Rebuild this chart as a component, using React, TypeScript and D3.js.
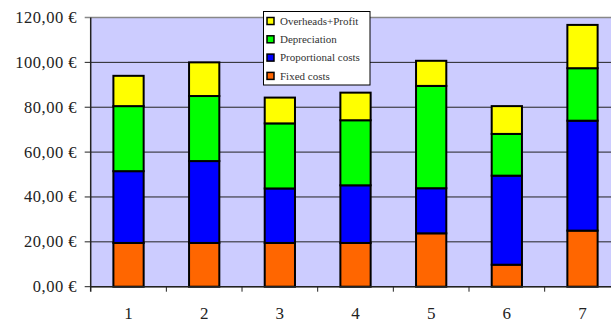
import React from "react";
import * as d3 from "d3";

const categories = ["1", "2", "3", "4", "5", "6", "7"];
const fixedCosts = [19.5, 19.5, 19.5, 19.5, 23.8, 9.8, 25];
const proportionalCosts = [32, 36.5, 24.3, 25.7, 20.1, 39.7, 49];
const depreciation = [29, 29, 29, 29, 45.6, 18.6, 23.4];
const overheadsProfit = [13.5, 15, 11.5, 12.3, 11.2, 12.4, 19.3];
const yTicks = [0, 20, 40, 60, 80, 100, 120];

const seriesNames = ["Fixed costs", "Proportional costs", "Depreciation", "Overheads+Profit"];
const seriesColors = ["#FF6600", "#0000FF", "#00FF00", "#FFFF00"];

const SERIF = "Liberation Serif, Tinos, Times New Roman, DejaVu Serif, serif";

export default function App() {
  const W = 611, H = 322;
  const left = 90.7, top = 17.5, bottom = 286.7;
  const bandW = 75.66;
  const right = left + bandW * categories.length;

  const x = d3.scaleBand<string>().domain(categories).range([left, right]).paddingInner(0.6).paddingOuter(0.3);
  const xOuter = d3.scaleBand<string>().domain(categories).range([left, right]);
  const y = d3.scaleLinear().domain([0, 120]).range([bottom, top]);

  const table = categories.map((c, i) => ({
    cat: c,
    s0: fixedCosts[i],
    s1: proportionalCosts[i],
    s2: depreciation[i],
    s3: overheadsProfit[i],
  }));
  const stack = d3.stack<any>().keys(["s0", "s1", "s2", "s3"]);
  const layers = stack(table);

  const fmt = (v: number) => v.toFixed(2).replace(".", ",") + " €";

  const legendItems = [3, 2, 1, 0];

  return (
    <svg width={W} height={H} style={{ position: "absolute", left: 0, top: 0, background: "#fff" }}>
      <rect x={left} y={top} width={W - left} height={bottom - top} fill="#CCCCFF" />
      {yTicks.map((t) => (
        <line key={t} x1={left - 6} x2={W} y1={y(t)} y2={y(t)}
          stroke={t === 120 ? "#888" : "#222"} strokeWidth={t === 120 ? 1.5 : 1} />
      ))}
      {yTicks.map((t) => (
        <text key={"l" + t} x={77} y={y(t) + 5.5} textAnchor="end"
          style={{ fontFamily: SERIF }} fontSize={16.5} fill="#222" letterSpacing={0.5}>
          {fmt(t)}
        </text>
      ))}
      {layers.map((layer, li) => (
        <g key={li}>
          {layer.map((d, i) => (
            <rect key={i} x={x(categories[i])!} y={y(d[1])} width={x.bandwidth()} height={y(d[0]) - y(d[1])}
              fill={seriesColors[li]} stroke="#000" strokeWidth={2} />
          ))}
        </g>
      ))}
      <line x1={left} x2={left} y1={top} y2={bottom + 5} stroke="#222" strokeWidth={1.5} />
      <line x1={left} x2={W} y1={bottom} y2={bottom} stroke="#222" strokeWidth={1.5} />
      {categories.map((c) => (
        <line key={"t" + c} x1={xOuter(c)! + bandW} x2={xOuter(c)! + bandW} y1={bottom} y2={bottom + 5} stroke="#222" strokeWidth={1} />
      ))}
      {categories.map((c) => (
        <text key={"x" + c} x={xOuter(c)! + bandW / 2} y={319} textAnchor="middle"
          style={{ fontFamily: SERIF }} fontSize={17} fill="#222">
          {c}
        </text>
      ))}
      <g>
        <rect x={263.5} y={11.5} width={106.5} height={73.5} fill="#fff" stroke="#000" strokeWidth={1} />
        {legendItems.map((si, k) => {
          const cy = 21 + k * 18.3;
          return (
            <g key={si}>
              <rect x={267} y={cy - 3.5} width={7} height={7} fill={seriesColors[si]} stroke="#000" strokeWidth={1.5} />
              <text x={280} y={cy + 3.8} style={{ fontFamily: SERIF }} fontSize={11} fill="#333">
                {seriesNames[si]}
              </text>
            </g>
          );
        })}
      </g>
    </svg>
  );
}
